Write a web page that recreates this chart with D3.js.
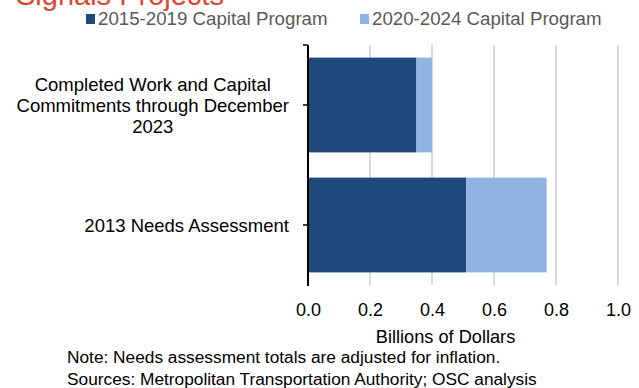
<!DOCTYPE html>
<html>
<head>
<meta charset="utf-8">
<script src="https://cdn.jsdelivr.net/npm/d3@7"></script>
<style>
  html, body { margin: 0; padding: 0; background: #fff; }
  svg { display: block; font-family: "Liberation Sans", Arial, sans-serif; }
</style>
</head>
<body>
<svg id="chart" width="639" height="388"></svg>
<script>
// Signals projects: capital program funding vs. needs assessment (billions of dollars)
const categories = [
  ["Completed Work and Capital", "Commitments through December", "2023"],
  ["2013 Needs Assessment"]
];
const seriesNames = ["2015-2019 Capital Program", "2020-2024 Capital Program"];
const program2015 = [0.35, 0.51];
const program2020 = [0.05, 0.26];
const xTicks = [0, 0.2, 0.4, 0.6, 0.8, 1.0];
const colors = ["#1f497d", "#8eb4e3"];

const svg = d3.select("#chart");

// Title (partly above the top edge)
svg.append("text")
  .attr("x", 16).attr("y", 5)
  .attr("font-size", 29)
  .attr("fill", "#e0452f")
  .text("Signals Projects");

// Legend
const legend = [
  { name: seriesNames[0], color: colors[0], x: 86 },
  { name: seriesNames[1], color: colors[1], x: 360 }
];
const lg = svg.append("g").selectAll("g").data(legend).join("g")
  .attr("transform", d => `translate(${d.x},0)`);
lg.append("rect").attr("x", 0).attr("y", 14).attr("width", 9).attr("height", 10)
  .attr("fill", d => d.color);
lg.append("text").attr("x", 12).attr("y", 25)
  .attr("font-size", 18.7).attr("fill", "#595959")
  .text(d => d.name);

// Scales
const x = d3.scaleLinear().domain([0, 1]).range([308, 618]);
const y = d3.scaleBand().domain(d3.range(categories.length))
  .range([45, 285]).paddingInner(0.21).paddingOuter(0.105);

// Vertical gridlines
svg.append("g").selectAll("line").data(xTicks.slice(1)).join("line")
  .attr("x1", d => x(d)).attr("x2", d => x(d))
  .attr("y1", 45).attr("y2", 285)
  .attr("stroke", "#d9d9d9").attr("stroke-width", 2);

// Stacked bars
const rows = categories.map((c, i) => ({ i, a: program2015[i], b: program2020[i] }));
const stack = d3.stack().keys(["a", "b"])(rows);
svg.append("g").selectAll("g").data(stack).join("g")
  .attr("fill", (d, k) => colors[k])
  .selectAll("rect").data(d => d).join("rect")
  .attr("x", d => x(d[0]))
  .attr("width", d => x(d[1]) - x(d[0]))
  .attr("y", d => y(d.data.i))
  .attr("height", y.bandwidth());

// X axis tick labels (no axis line)
const xAxis = svg.append("g").attr("transform", "translate(0,285)")
  .call(d3.axisBottom(x).tickValues(xTicks).tickFormat(d3.format(".1f")).tickSize(0).tickPadding(0));
xAxis.select(".domain").remove();
xAxis.selectAll("text")
  .attr("font-family", "Liberation Sans, Arial, sans-serif")
  .attr("font-size", 18).attr("fill", "#000")
  .attr("dy", null).attr("y", 31);

// Axis title
svg.append("text")
  .attr("x", 445.5).attr("y", 343)
  .attr("text-anchor", "middle")
  .attr("font-size", 18.2).attr("fill", "#000")
  .text("Billions of Dollars");

// Y axis: vertical line with ticks at category centres and a cap at the top
const yAxis = svg.append("g").attr("transform", "translate(308,0)");
yAxis.append("line").attr("x1", 0).attr("x2", 0).attr("y1", 45).attr("y2", 286)
  .attr("stroke", "#000").attr("stroke-width", 2);
yAxis.append("line").attr("x1", -5).attr("x2", 0).attr("y1", 45).attr("y2", 45)
  .attr("stroke", "#000").attr("stroke-width", 1.5);
yAxis.selectAll("line.tick").data(categories.map((c, i) => i)).join("line")
  .attr("class", "tick")
  .attr("x1", -5).attr("x2", 0)
  .attr("y1", d => y(d) + y.bandwidth() / 2).attr("y2", d => y(d) + y.bandwidth() / 2)
  .attr("stroke", "#000").attr("stroke-width", 1.5);

// Category labels: wrapped lines centred within a block right-aligned to the axis
const lineH = 21;
const labelG = svg.append("g");
categories.forEach((lines, i) => {
  const cy = y(i) + y.bandwidth() / 2;
  const g = labelG.append("g");
  const texts = g.selectAll("text").data(lines).join("text")
    .attr("font-size", 18.5).attr("fill", "#000")
    .attr("text-anchor", "middle")
    .attr("y", (d, k) => cy + (k - (lines.length - 1) / 2) * lineH + 6.5)
    .text(d => d);
  let maxW = 0;
  texts.each(function () { maxW = Math.max(maxW, this.getComputedTextLength()); });
  texts.attr("x", 289 - maxW / 2);
});

// Footnotes
svg.append("text").attr("x", 67).attr("y", 363)
  .attr("font-size", 17.3).attr("fill", "#000")
  .text("Note: Needs assessment totals are adjusted for inflation.");
svg.append("text").attr("x", 67).attr("y", 385)
  .attr("font-size", 17.3).attr("fill", "#000")
  .text("Sources: Metropolitan Transportation Authority; OSC analysis");
</script>
</body>
</html>
